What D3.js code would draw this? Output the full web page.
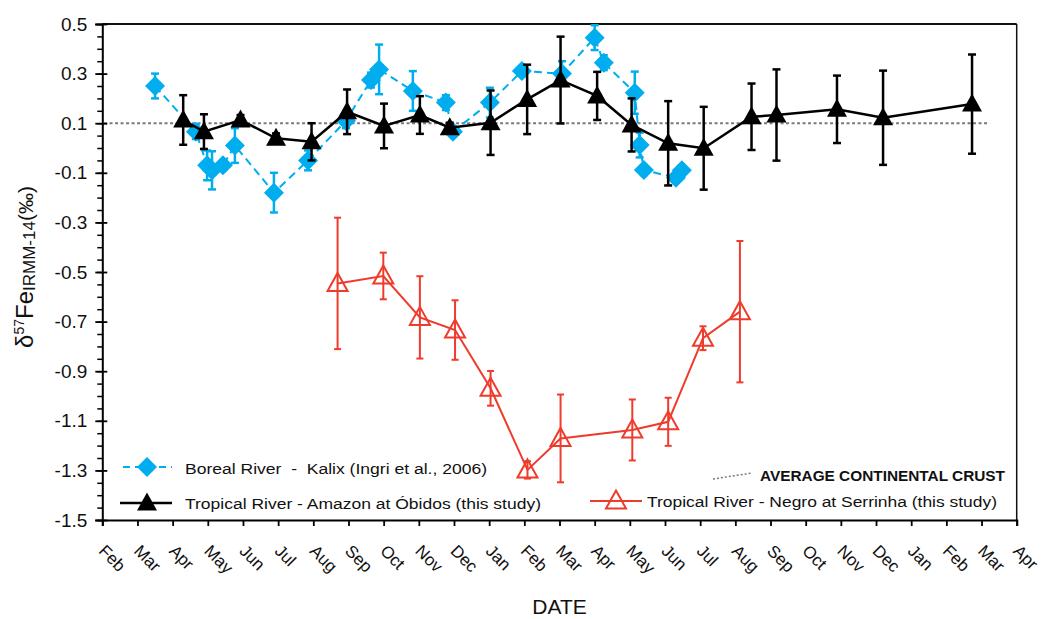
<!DOCTYPE html>
<html>
<head>
<meta charset="utf-8">
<script src="https://cdn.jsdelivr.net/npm/d3@7/dist/d3.min.js"></script>
<style>
body { margin: 0; background: #fff; }
svg { display: block; font-family: "Liberation Sans", Arial, sans-serif; }
</style>
</head>
<body>
<svg id="chart" width="1042" height="619"></svg>
<script>
// month labels along the time axis (one tick per month)
const monthLabels = ["Feb","Mar","Apr","May","Jun","Jul","Aug","Sep","Oct","Nov","Dec","Jan",
	"Feb","Mar","Apr","May","Jun","Jul","Aug","Sep","Oct","Nov","Dec","Jan","Feb","Mar","Apr"];

const yTicks = [0.5, 0.3, 0.1, -0.1, -0.3, -0.5, -0.7, -0.9, -1.1, -1.3, -1.5];

// Boreal River - Kalix : month position, d57Fe, error
const borealMonth = [1.50, 2.66, 2.98, 3.12, 3.43, 3.77, 4.88, 5.85, 6.93, 7.64, 7.87, 8.83,
	9.77, 9.97, 11.02, 11.93, 13.07, 14.00, 14.26, 15.14, 15.28, 15.40, 16.31, 16.48];
const borealValue = [0.25, 0.066, -0.07, -0.09, -0.07, 0.01, -0.18, -0.05, 0.11, 0.274, 0.317, 0.23,
	0.183, 0.066, 0.183, 0.31, 0.30, 0.445, 0.344, 0.223, 0.012, -0.089, -0.12, -0.09];
const borealErr = [0.05, 0.03, 0.06, 0.077, 0.02, 0.07, 0.08, 0.04, 0.03, 0.03, 0.1, 0.08,
	0.03, 0.02, 0.06, 0.02, 0.05, 0.05, 0.03, 0.085, 0.05, 0.02, 0.02, 0.02];

// Tropical River - Amazon at Obidos
const amazonMonth = [2.30, 2.89, 3.93, 4.94, 5.95, 6.96, 8.01, 9.03, 9.88, 11.04, 12.08, 13.03,
	14.07, 15.05, 16.09, 17.10, 18.46, 19.17, 20.89, 22.20, 24.73];
const amazonValue = [0.113, 0.066, 0.113, 0.039, 0.025, 0.146, 0.089, 0.133, 0.082, 0.102, 0.196, 0.274,
	0.21, 0.093, 0.019, -0.001, 0.126, 0.133, 0.156, 0.122, 0.177];
const amazonErr = [0.1, 0.07, 0.02, 0.02, 0.075, 0.09, 0.09, 0.076, 0.02, 0.13, 0.14, 0.175,
	0.097, 0.107, 0.17, 0.167, 0.134, 0.184, 0.136, 0.19, 0.2];

// Tropical River - Negro at Serrinha
const negroMonth = [6.69, 7.99, 9.03, 10.03, 11.04, 12.09, 13.03, 15.07, 16.09, 17.08, 18.13];
const negroValue = [-0.546, -0.516, -0.683, -0.734, -0.969, -1.298, -1.171, -1.137, -1.104, -0.767, -0.66];
const negroErr = [0.265, 0.094, 0.166, 0.12, 0.07, 0.035, 0.177, 0.123, 0.097, 0.048, 0.285];

// average continental crust
const crustValue = 0.1;
const crustMonths = [0.05, 25.18];

const blue = "#00aeef", red = "#ef3b2c";

const svg = d3.select("#chart");
const plotLeft = 102.3, plotRight = 1016.7, plotTop = 24, plotBottom = 520;

const x = d3.scaleLinear().domain([0, monthLabels.length - 1]).range([plotLeft, plotRight]);
const y = d3.scaleLinear().domain([-1.5, 0.5]).range([plotBottom, plotTop]);

function series(months, values, errs) {
	return months.map((m, i) => ({m: m, v: values[i], e: errs[i]}));
}
const boreal = series(borealMonth, borealValue, borealErr);
const amazon = series(amazonMonth, amazonValue, amazonErr);
const negro = series(negroMonth, negroValue, negroErr);

// frame (top and right)
svg.append("line").attr("x1", plotLeft).attr("x2", plotRight).attr("y1", plotTop).attr("y2", plotTop)
	.attr("stroke", "#111").attr("stroke-width", 2);
svg.append("line").attr("x1", plotRight).attr("x2", plotRight).attr("y1", plotTop).attr("y2", plotBottom)
	.attr("stroke", "#111").attr("stroke-width", 1.5);

// crust line
svg.append("line")
	.attr("x1", x(crustMonths[0])).attr("x2", x(crustMonths[1]))
	.attr("y1", y(crustValue)).attr("y2", y(crustValue))
	.attr("stroke", "#7a7a7a").attr("stroke-width", 2).attr("stroke-dasharray", "3,2.5");

// y axis: minor ticks then major ticks
const minor = d3.range(-1.5, 0.5001, 0.05).map(d => +d.toFixed(2));
svg.append("g").attr("transform", `translate(${plotLeft},0)`)
	.call(d3.axisLeft(y).tickValues(minor).tickSize(5).tickFormat(""))
	.call(g => g.select(".domain").remove())
	.selectAll("line").attr("stroke-width", 1.5);

const yAxis = svg.append("g").attr("transform", `translate(${plotLeft},0)`)
	.call(d3.axisLeft(y).tickValues(yTicks).tickSizeOuter(0).tickSize(7).tickFormat(d => d.toFixed(1)));
yAxis.select(".domain").attr("stroke-width", 2);
yAxis.selectAll(".tick line").attr("x2", -7).attr("x1", 5).attr("stroke-width", 1.8);
yAxis.selectAll(".tick text").attr("x", -15).attr("font-size", 19)
	.attr("font-family", "Liberation Sans, Arial, sans-serif").attr("fill", "#111");

// x axis
const xAxis = svg.append("g").attr("transform", `translate(0,${plotBottom})`)
	.call(d3.axisBottom(x).tickValues(d3.range(monthLabels.length)).tickSizeOuter(0).tickSize(6).tickFormat(""));
xAxis.select(".domain").attr("stroke-width", 2);
xAxis.selectAll(".tick line").attr("stroke-width", 1.8);
xAxis.selectAll(".tick").append("text")
	.attr("transform", "translate(-5,32) rotate(45)")
	.attr("text-anchor", "start")
	.attr("fill", "#111")
	.attr("font-size", 17)
	.attr("font-family", "Liberation Sans, Arial, sans-serif")
	.text(d => monthLabels[d]);

// axis titles
svg.append("text").attr("x", (plotLeft + plotRight) / 2).attr("y", 614)
	.attr("text-anchor", "middle").attr("font-size", 21).attr("fill", "#111").text("DATE");

const yl = svg.append("text").attr("transform", "translate(33,267) rotate(-90)")
	.attr("text-anchor", "middle").attr("fill", "#111");
yl.append("tspan").attr("font-size", 24).text("δ");
yl.append("tspan").attr("font-size", 14).attr("dy", -9).text("57");
yl.append("tspan").attr("font-size", 24).attr("dy", 9).text("Fe");
yl.append("tspan").attr("font-size", 17).attr("dy", 2).text("IRMM-14");
yl.append("tspan").attr("font-size", 21).attr("dy", -2).text("(‰)");

// markers
const diamond = d3.symbol().type(d3.symbolSquare).size(200)();
const triangle = "M0,-10.5L10,7.5L-10,7.5Z";

function errorBars(g, data, color, w, cap) {
	const eb = g.selectAll(null).data(data).enter().append("g")
		.attr("stroke", color).attr("stroke-width", w);
	eb.append("line").attr("x1", d => x(d.m)).attr("x2", d => x(d.m))
		.attr("y1", d => y(d.v + d.e)).attr("y2", d => y(d.v - d.e));
	eb.append("line").attr("x1", d => x(d.m) - cap).attr("x2", d => x(d.m) + cap)
		.attr("y1", d => y(d.v + d.e)).attr("y2", d => y(d.v + d.e));
	eb.append("line").attr("x1", d => x(d.m) - cap).attr("x2", d => x(d.m) + cap)
		.attr("y1", d => y(d.v - d.e)).attr("y2", d => y(d.v - d.e));
}

const line = d3.line().x(d => x(d.m)).y(d => y(d.v));

// boreal
const gB = svg.append("g");
errorBars(gB, boreal, blue, 2.5, 4);
gB.append("path").datum(boreal).attr("d", line).attr("fill", "none")
	.attr("stroke", blue).attr("stroke-width", 2).attr("stroke-dasharray", "8,5");
gB.selectAll(null).data(boreal).enter().append("path")
	.attr("d", diamond).attr("fill", blue)
	.attr("transform", d => `translate(${x(d.m)},${y(d.v)}) rotate(45)`);

// amazon
const gA = svg.append("g");
gA.append("path").datum(amazon).attr("d", line).attr("fill", "none")
	.attr("stroke", "#000").attr("stroke-width", 2.5);
errorBars(gA, amazon, "#000", 2.5, 4);
gA.selectAll(null).data(amazon).enter().append("path")
	.attr("d", triangle).attr("fill", "#000")
	.attr("transform", d => `translate(${x(d.m)},${y(d.v)})`);

// negro
const gN = svg.append("g");
gN.append("path").datum(negro).attr("d", line).attr("fill", "none")
	.attr("stroke", red).attr("stroke-width", 2);
errorBars(gN, negro, red, 2, 3.5);
gN.selectAll(null).data(negro).enter().append("path")
	.attr("d", triangle).attr("fill", "none").attr("stroke", red).attr("stroke-width", 2)
	.attr("transform", d => `translate(${x(d.m)},${y(d.v)})`);

// legend
const lg = svg.append("g").attr("font-size", 15.5).attr("fill", "#111");
lg.append("line").attr("x1", 123).attr("x2", 172).attr("y1", 467).attr("y2", 467)
	.attr("stroke", blue).attr("stroke-width", 2).attr("stroke-dasharray", "7,5");
lg.append("path").attr("d", diamond).attr("fill", blue).attr("transform", "translate(147,467) rotate(45)");
lg.append("text").attr("x", 185).attr("y", 474).attr("textLength", 302).attr("lengthAdjust", "spacingAndGlyphs")
	.text("Boreal River\u00a0\u00a0-\u00a0\u00a0Kalix (Ingri et al., 2006)");

lg.append("line").attr("x1", 120).attr("x2", 172).attr("y1", 503).attr("y2", 503)
	.attr("stroke", "#000").attr("stroke-width", 2.5);
lg.append("path").attr("d", triangle).attr("fill", "#000").attr("transform", "translate(147,503)");
lg.append("text").attr("x", 185).attr("y", 509).attr("textLength", 356).attr("lengthAdjust", "spacingAndGlyphs")
	.text("Tropical River - Amazon at Óbidos (this study)");

lg.append("line").attr("x1", 590).attr("x2", 642).attr("y1", 501).attr("y2", 501)
	.attr("stroke", red).attr("stroke-width", 2);
lg.append("path").attr("d", triangle).attr("fill", "none").attr("stroke", red).attr("stroke-width", 2)
	.attr("transform", "translate(616,501)");
lg.append("text").attr("x", 647).attr("y", 507).attr("textLength", 350).attr("lengthAdjust", "spacingAndGlyphs")
	.text("Tropical River - Negro at Serrinha (this study)");

lg.append("line").attr("x1", 713).attr("x2", 752).attr("y1", 479).attr("y2", 473)
	.attr("stroke", "#7a7a7a").attr("stroke-width", 1.5).attr("stroke-dasharray", "2,2");
lg.append("text").attr("x", 760).attr("y", 481).attr("font-weight", "bold").attr("font-size", 15)
	.attr("textLength", 245).attr("lengthAdjust", "spacingAndGlyphs")
	.text("AVERAGE CONTINENTAL CRUST");
</script>
</body>
</html>
